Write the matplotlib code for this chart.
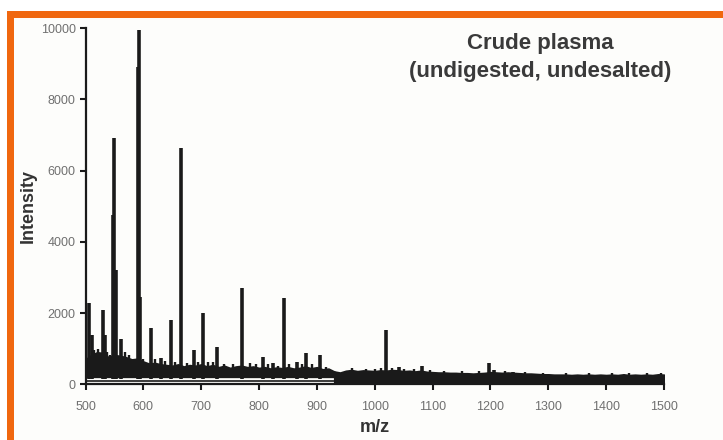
import matplotlib
matplotlib.use('Agg')
import matplotlib.pyplot as plt
from matplotlib.patches import Rectangle

# main peaks (m/z, intensity)
peak_mz = [506, 511, 531, 534, 548, 550, 553, 561, 590, 592, 594, 613, 630, 647,
           665, 687, 703, 727, 770, 807, 824, 843, 866, 882, 905,
           1020, 1042, 1057, 1082, 1197, 1207, 1239]
peak_int = [2290, 1380, 2080, 1380, 4750, 6910, 3200, 1280, 8900, 9950, 2460, 1590, 740, 1820,
            6650, 970, 2010, 1050, 2710, 760, 600, 2430, 640, 875, 820,
            1525, 480, 380, 515, 610, 400, 355]

# small spikes sitting on the baseline
small_mz = [515, 522, 538, 543, 568, 575, 600, 620, 637, 655, 676, 695, 712, 720,
            740, 755, 785, 795, 815, 833, 852, 875, 892, 915, 960, 985, 1000, 1010,
            1030, 1050, 1068, 1095, 1120, 1150, 1180, 1225, 1260, 1290, 1330, 1370,
            1410, 1440, 1470, 1495]
small_int = [950, 1000, 900, 820, 900, 820, 720, 700, 650, 620, 600, 640, 620, 640,
             580, 560, 600, 580, 560, 520, 560, 560, 560, 500, 460, 440, 430, 450,
             450, 430, 440, 400, 380, 370, 360, 370, 350, 330, 320, 320,
             310, 320, 310, 330]

# upper edge of the noisy baseline band, every 10 m/z from 500 to 1500
base_mz = list(range(500, 1510, 10))
base_top = [700, 820, 900, 880, 760, 820, 800, 760, 700, 720,
            640, 580, 600, 560, 540, 520, 560, 500, 540, 520,
            560, 500, 540, 480, 520, 460, 500, 520, 480, 500,
            460, 480, 440, 470, 450, 480, 440, 460, 500, 450,
            480, 420, 440, 360, 330, 380, 400, 370, 390, 380,
            370, 390, 380, 400, 390, 370, 380, 360, 380, 350,
            340, 330, 330, 320, 320, 310, 310, 300, 310, 320,
            340, 330, 320, 330, 320, 310, 300, 300, 290, 280,
            280, 270, 270, 270, 260, 270, 260, 270, 260, 270,
            260, 270, 260, 280, 260, 270, 260, 270, 260, 280,
            270]
# band floor: above a thin gap up to m/z 930, down to zero after that
split_mz = 930
band_floor = 210
trace_mz = [500, 932]
trace_val = [90, 90]

fig = plt.figure(figsize=(7.23, 4.40), dpi=100)
fig.patch.set_facecolor('white')
W, H = 723, 440
# panel background and orange frame
fig.patches.append(Rectangle((14 / W, 0), 1, 1 - 18 / H, transform=fig.transFigure,
                             facecolor='#fdfdfb', edgecolor='none', zorder=-2))
fig.patches.append(Rectangle((7 / W, 1 - 18 / H), 1, 7 / H, transform=fig.transFigure,
                             facecolor='#f0670f', edgecolor='none', zorder=-1))
fig.patches.append(Rectangle((7 / W, 0), 7 / W, 1 - 11 / H, transform=fig.transFigure,
                             facecolor='#f0670f', edgecolor='none', zorder=-1))

ax = fig.add_axes([85.5 / W, 1 - 384.3 / H, (664 - 85.5) / W, (384.3 - 28.3) / H])
ax.set_facecolor('none')

dark = '#1a1a1a'
n = base_mz.index(split_mz)
ax.fill_between(base_mz[:n + 1], band_floor, base_top[:n + 1], color=dark,
                linewidth=1.2, edgecolor=dark)
ax.fill_between(base_mz[n:], 0, base_top[n:], color=dark, linewidth=1.2, edgecolor=dark)
ax.plot(trace_mz, trace_val, color=dark, lw=1.2)
ax.vlines(small_mz, 250, small_int, color=dark, lw=1.7)
ax.vlines(peak_mz, 150, peak_int, color=dark, lw=2.6)

ax.set_xlim(500, 1500)
ax.set_ylim(0, 10000)
ax.set_xticks(range(500, 1501, 100))
ax.set_yticks(range(0, 10001, 2000))
for s in ['top', 'right']:
    ax.spines[s].set_visible(False)
for s in ['left', 'bottom']:
    ax.spines[s].set_linewidth(1.6)
    ax.spines[s].set_color('#1a1a1a')
ax.tick_params(direction='out', length=4, width=1.5, color='#1a1a1a',
               labelsize=9, labelcolor='#707070', pad=3)
ax.tick_params(axis='x', pad=8)
for lab in ax.get_xticklabels() + ax.get_yticklabels():
    lab.set_family('Liberation Sans')

ax.set_xlabel('m/z', fontsize=13, fontweight='bold', color='#333333',
              family='Liberation Sans', labelpad=4)
ax.set_ylabel('Intensity', fontsize=13, fontweight='bold', color='#333333',
              family='Liberation Sans', labelpad=3)

fig.text(540 / W, 1 - 43 / H, 'Crude plasma', ha='center', va='center',
         fontsize=16, fontweight='bold', color='#3a3a3a', family='Liberation Sans')
fig.text(540 / W, 1 - 71 / H, '(undigested, undesalted)', ha='center', va='center',
         fontsize=16, fontweight='bold', color='#3a3a3a', family='Liberation Sans')

fig.savefig('out.png', dpi=100, facecolor=fig.get_facecolor())
